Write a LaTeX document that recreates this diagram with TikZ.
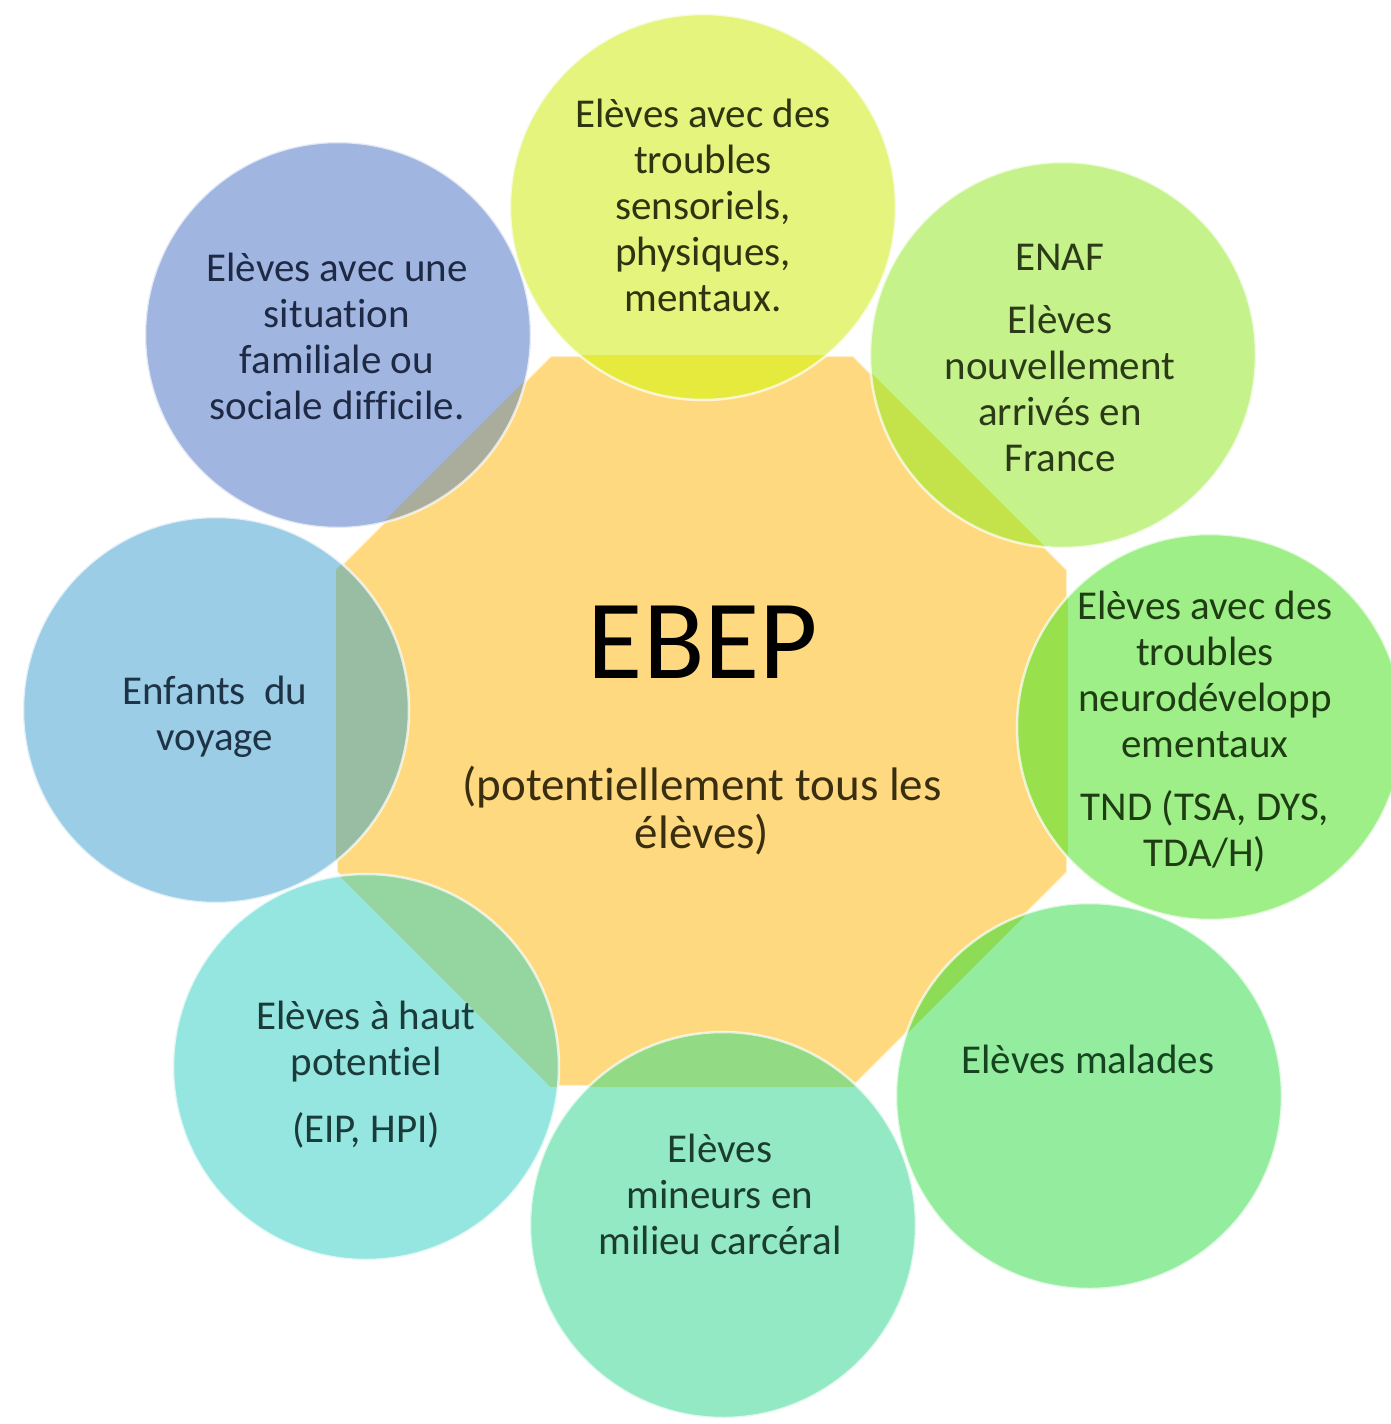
\documentclass[tikz,border=0pt]{standalone}
\usepackage{fontspec}
\setmainfont{Carlito}[Ligatures=NoCommon]
\usetikzlibrary{shapes.geometric}
\definecolor{orangeC}{HTML}{FED97F}
\definecolor{cTL}{HTML}{A0B5E0}\definecolor{oTL}{HTML}{AAAC9C}\definecolor{tTL}{HTML}{1E2A45}
\definecolor{cT}{HTML}{E4F47D}\definecolor{oT}{HTML}{E5EA3C}\definecolor{tT}{HTML}{2E3310}
\definecolor{cTR}{HTML}{C6F28C}\definecolor{oTR}{HTML}{C4E34A}\definecolor{tTR}{HTML}{2B3A17}
\definecolor{cR}{HTML}{9EEF88}\definecolor{oR}{HTML}{98E04C}\definecolor{tR}{HTML}{1F3D12}
\definecolor{cBR}{HTML}{94EC9E}\definecolor{oBR}{HTML}{8EDC55}\definecolor{tBR}{HTML}{174420}
\definecolor{cB}{HTML}{93E9C4}\definecolor{oB}{HTML}{93DA84}\definecolor{tB}{HTML}{1A3D2C}
\definecolor{cBL}{HTML}{95E6E0}\definecolor{oBL}{HTML}{95D6A0}\definecolor{tBL}{HTML}{1B3B3A}
\definecolor{cL}{HTML}{9CCDE6}\definecolor{oL}{HTML}{98BDA2}\definecolor{tL}{HTML}{1E3345}
\definecolor{tSub}{HTML}{3A2E10}
\tikzset{
  bubble/.style={circle, minimum size=386pt, inner sep=0pt},
  rim/.style={draw=white, draw opacity=0.7, line width=2.5pt},
  label/.style={align=center, anchor=base, font=\fontsize{41}{46}\selectfont, inner sep=0pt},
}
\begin{document}
\begin{tikzpicture}[x=1pt,y=-1pt]
\useasboundingbox[fill=white] (0,0) rectangle (1390,1424);
% central octagon
\node[regular polygon, regular polygon sides=8, minimum size=790pt, inner sep=0pt,
      fill=orangeC, draw=white, draw opacity=0.6, line width=2pt] (oct) at (702,721) {};
% circles
\foreach \n/\x/\y/\c/\o in {TL/338/335/cTL/oTL, T/703/207/cT/oT, TR/1063/355/cTR/oTR,
   R/1210/727/cR/oR, BR/1089/1096/cBR/oBR, B/723/1225/cB/oB, BL/366/1067/cBL/oBL, L/216/710/cL/oL}{
  \node[bubble, fill=\c] (c\n) at (\x,\y) {};
  \begin{scope}
    \clip (oct.corner 1) -- (oct.corner 2) -- (oct.corner 3) -- (oct.corner 4) -- (oct.corner 5)
          -- (oct.corner 6) -- (oct.corner 7) -- (oct.corner 8) -- cycle;
    \fill[\o] (c\n.center) circle[radius=193pt];
  \end{scope}
  \draw[rim] (c\n.center) circle[radius=193pt];
}
% texts (anchor base = baseline of the last line)
\node[anchor=base, inner sep=0pt, font=\fontsize{113}{130}\selectfont, text=black] (ebep) at (703,678) {EBEP};
\node[anchor=base, inner sep=0pt, align=center, font=\fontsize{47}{48}\selectfont, text=tSub] (sub) at (702,848)
  {(potentiellement tous les\\élèves)};
\node[label, text=tT] (tT) at (703,311) {Elèves avec des\\troubles\\sensoriels,\\physiques,\\mentaux.};
\node[label, text=tTL] (tTL) at (337,419) {Elèves avec une\\situation\\familiale ou\\sociale difficile.};
\node[label, text=tTR] (tTR) at (1060,471) {ENAF\\[17pt]Elèves\\nouvellement\\arrivés en\\France};
\node[label, text=tR] (tR) at (1205,866) {Elèves avec des\\troubles\\neurodévelopp\\ementaux\\[17pt]TND (TSA, DYS,\\TDA/H)};
\node[label, text=tBR] (tBR) at (1088,1073) {Elèves malades};
\node[label, text=tB] (tB) at (720,1254) {Elèves\\mineurs en\\milieu carcéral};
\node[label, text=tBL] (tBL) at (366,1142) {Elèves à haut\\potentiel\\[21pt](EIP, HPI)};
\node[label, text=tL] (tL) at (215,750) {Enfants\ \ du\\voyage};
\end{tikzpicture}
\end{document}
